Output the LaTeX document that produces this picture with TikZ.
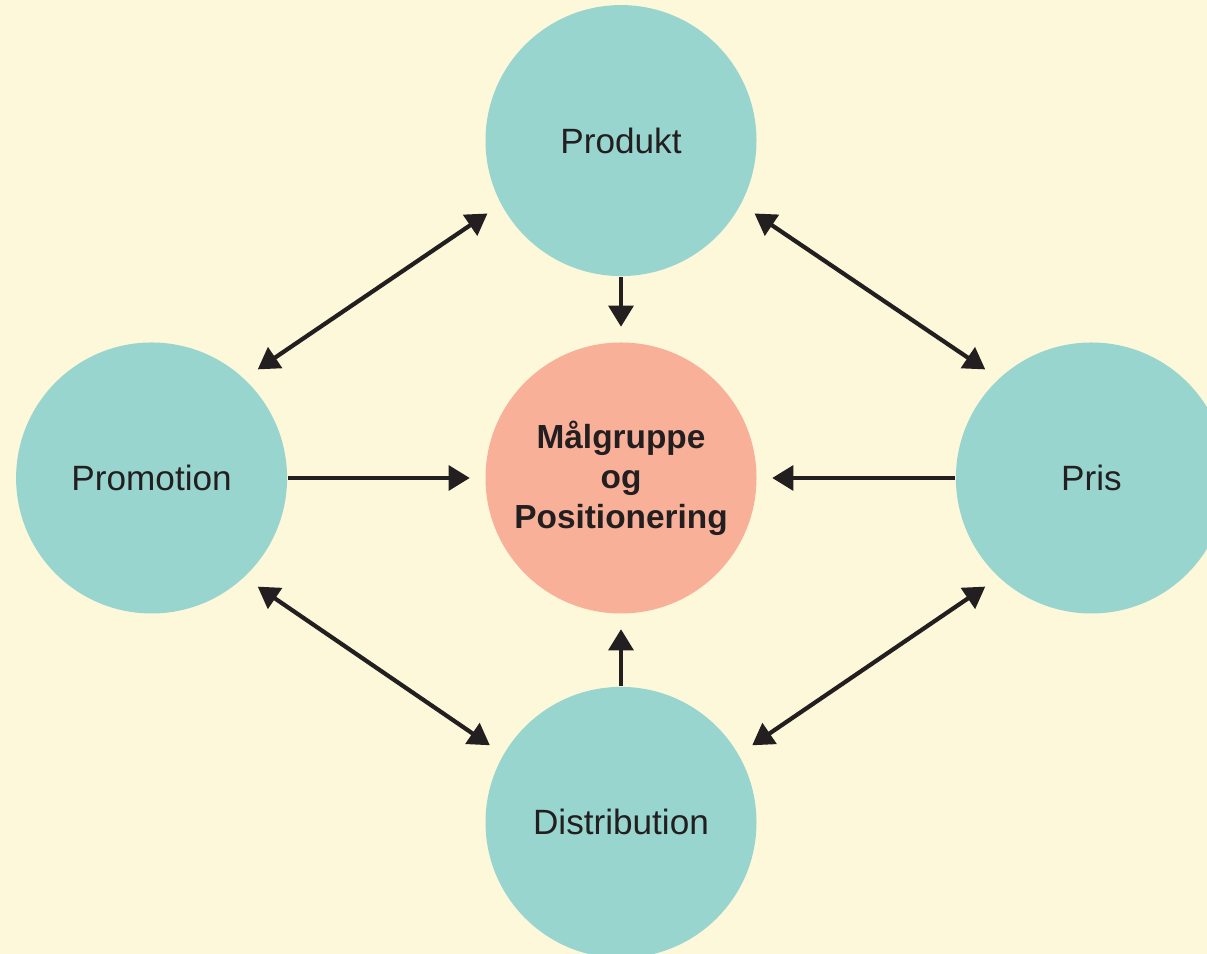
\documentclass[tikz,border=0pt]{standalone}
\usepackage{fontspec}
\setmainfont{Liberation Sans}
\usetikzlibrary{positioning,arrows.meta}
\definecolor{bgyellow}{RGB}{254,248,218}
\definecolor{circteal}{RGB}{152,213,206}
\definecolor{circsalmon}{RGB}{248,176,152}
\definecolor{inkdark}{RGB}{35,31,32}

\begin{document}
\begin{tikzpicture}[
  mixnode/.style={circle, fill=circteal, minimum size=2.71cm, inner sep=0pt, text=inkdark, font=\fontsize{10}{12}\selectfont},
  goalnode/.style={circle, fill=circsalmon, minimum size=2.71cm, inner sep=0pt, align=center, text=inkdark, font=\fontsize{9.5}{11.4}\selectfont\bfseries},
  oneway/.style={draw=inkdark, line width=1.2pt, -{Triangle[length=6pt,width=7pt]}, shorten >=0.15cm},
  twoway/.style={draw=inkdark, line width=1.2pt, {Triangle[length=6pt,width=7pt]}-{Triangle[length=6pt,width=7pt]}, shorten >=0.16cm, shorten <=0.16cm}
]

% Background
\useasboundingbox (-6.21,-4.76) rectangle (5.86,4.78);
\clip (-6.21,-4.76) rectangle (5.86,4.78);
\fill[bgyellow] (-6.21,-4.76) rectangle (5.86,4.78);

% Circles
\node[goalnode] (maal) {Målgruppe\\og\\Positionering};
\node[mixnode, above=0.65cm of maal] (produkt) {Produkt};
\node[mixnode, left=1.97cm of maal] (promotion) {Promotion};
\node[mixnode, right=1.98cm of maal] (pris) {Pris};
\node[mixnode, below=0.72cm of maal] (distribution) {Distribution};

% Arrows into the centre
\draw[oneway] (produkt) -- (maal);
\draw[oneway] (promotion) -- (maal);
\draw[oneway] (pris) -- (maal);
\draw[oneway] (distribution) -- (maal);

% Arrows round the ring
\draw[twoway] (produkt.208) -- (promotion.47);
\draw[twoway] (produkt.332) -- (pris.133);
\draw[twoway] (distribution.150) -- (promotion.313);
\draw[twoway] (distribution.30) -- (pris.227);

\end{tikzpicture}
\end{document}
